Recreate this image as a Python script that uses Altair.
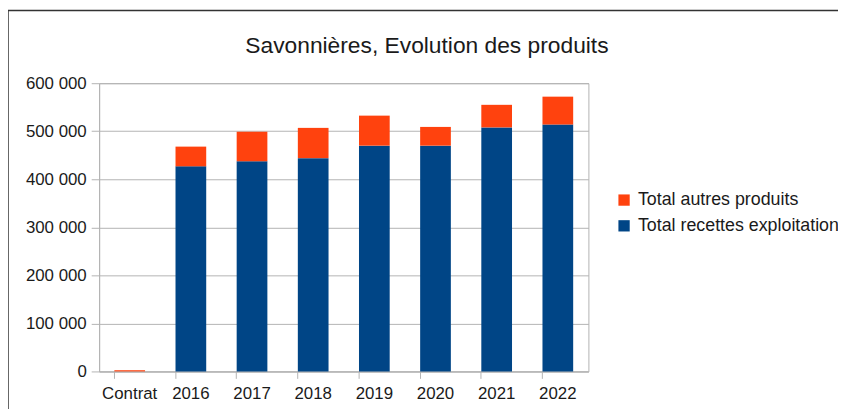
import altair as alt
import pandas as pd

categories = ["Contrat", "2016", "2017", "2018", "2019", "2020", "2021", "2022"]
recettes = [0, 427000, 437500, 444000, 470000, 470000, 508000, 514000]
autres = [2500, 41000, 61500, 63000, 62500, 39000, 47000, 58000]
series = ["Total autres produits", "Total recettes exploitation"]
colors = ["#ff420e", "#004586"]
title_text = "Savonnières, Evolution des produits"

rows = []
for c, r, a in zip(categories, recettes, autres):
    rows.append({"cat": c, "serie": series[1], "val": r, "ord": 0})
    rows.append({"cat": c, "serie": series[0], "val": a, "ord": 1})
df = pd.DataFrame(rows)

FONT = "Liberation Sans"

bars = alt.Chart(df).mark_bar(size=31).encode(
    x=alt.X("cat:N", sort=categories, title=None,
            scale=alt.Scale(paddingInner=0.5, paddingOuter=0.25),
            axis=alt.Axis(labelAngle=0, bandPosition=0, tickSize=7, labelPadding=7,
                          domainColor="#b3b3b3", tickColor="#b3b3b3",
                          labelFontSize=17, labelColor="#1a1a1a", labelFont=FONT,
                          grid=False)),
    y=alt.Y("val:Q", stack="zero", title=None,
            scale=alt.Scale(domain=[0, 600000], nice=False),
            axis=alt.Axis(values=[0, 100000, 200000, 300000, 400000, 500000, 600000],
                          format=",d", tickSize=8, labelPadding=5,
                          domainColor="#b3b3b3", tickColor="#b3b3b3",
                          gridColor="#b3b3b3", labelFontSize=17, labelColor="#1a1a1a",
                          labelFont=FONT)),
    color=alt.Color("serie:N", scale=alt.Scale(domain=series, range=colors),
                    legend=alt.Legend(title=None, orient="none", legendX=521, legendY=109,
                                      symbolType="square", symbolSize=130,
                                      symbolStrokeWidth=0, labelFontSize=18,
                                      labelFont=FONT, labelColor="#1a1a1a",
                                      rowPadding=8, labelOffset=5, labelLimit=400)),
    order=alt.Order("ord:Q"),
)

one = pd.DataFrame({"t": [title_text]})

border = alt.Chart(one).mark_rect(
    fill=None, stroke="#333333", strokeWidth=1.5
).encode(x=alt.value(-92), x2=alt.value(800), y=alt.value(-73.5), y2=alt.value(400))

title = alt.Chart(one).mark_text(
    font=FONT, fontSize=23, color="#1a1a1a", align="center", baseline="alphabetic"
).encode(text="t:N", x=alt.value(331), y=alt.value(-30))

chart = alt.layer(bars, border, title).properties(
    width=494, height=291,
    autosize=alt.AutoSizeParams(type="none"),
    padding={"left": 92, "top": 74, "right": 252, "bottom": 36},
).configure(
    locale={"number": {"decimal": ",", "thousands": " ", "grouping": [3],
                       "currency": ["", " €"]}}
).configure_view(stroke="#b3b3b3")

chart.save("out.html", embed_options={"renderer": "svg", "actions": False})
